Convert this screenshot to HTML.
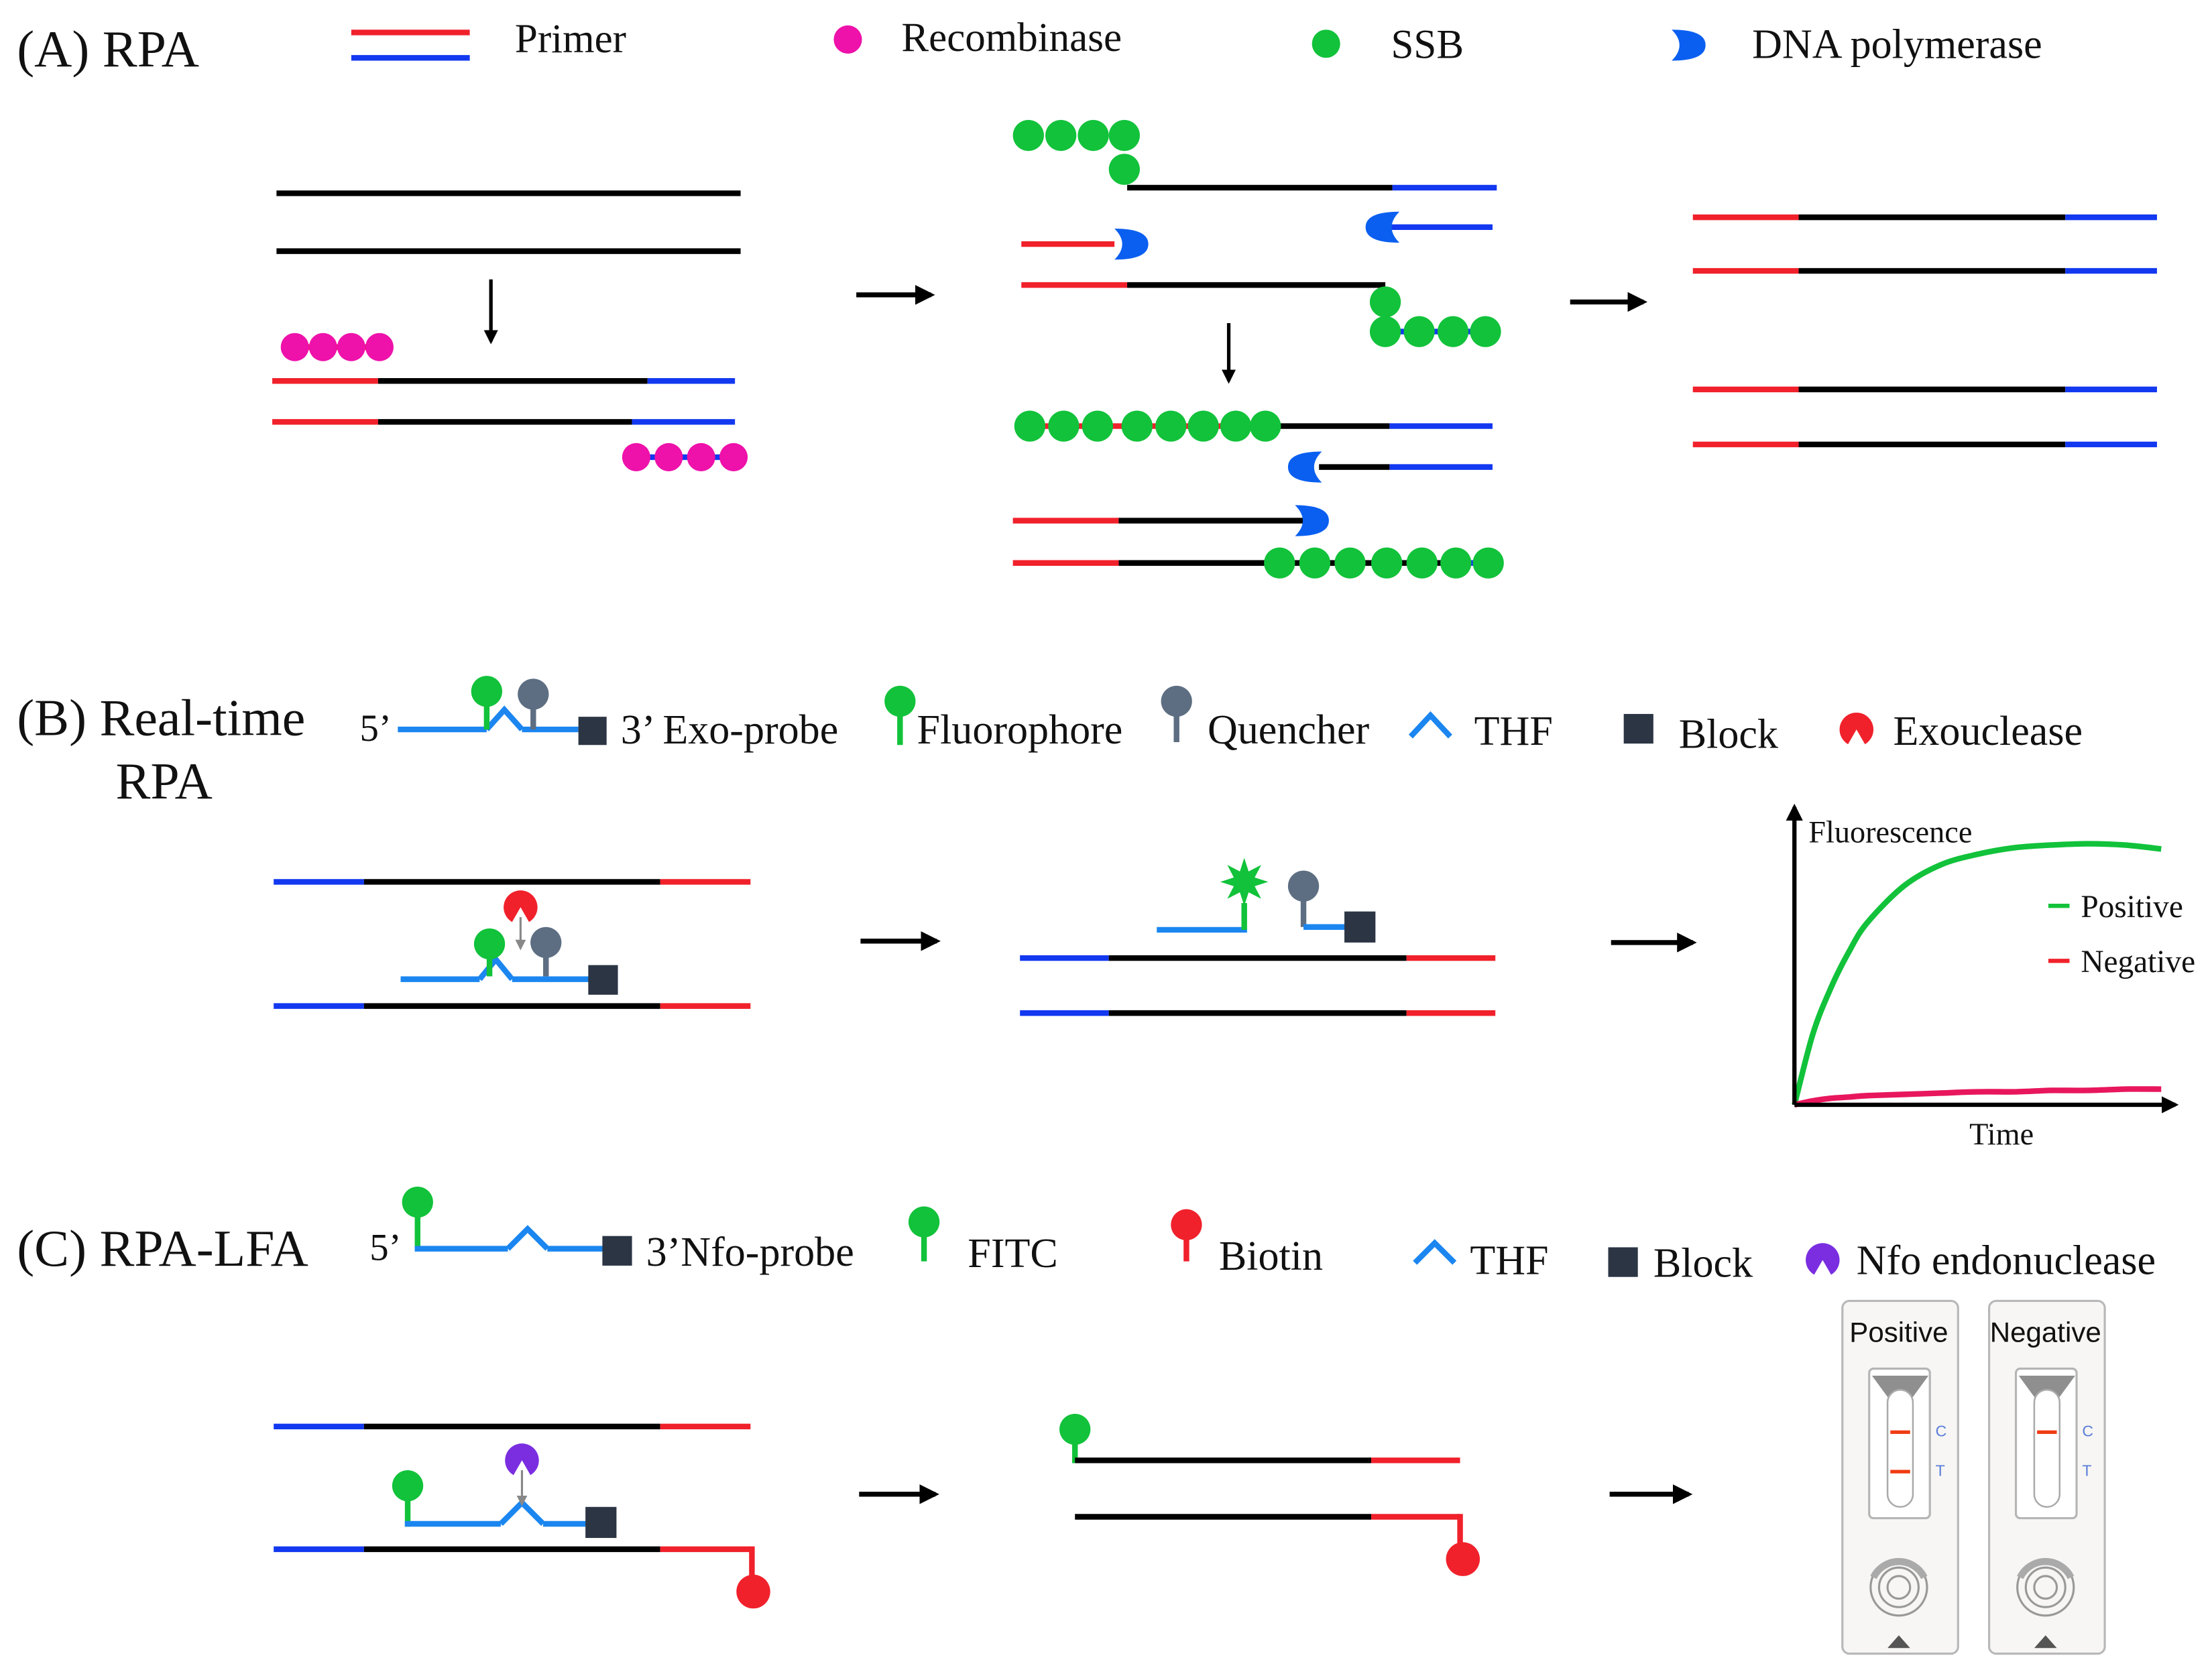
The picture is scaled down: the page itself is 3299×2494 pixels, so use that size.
<!DOCTYPE html>
<html><head><meta charset="utf-8"><style>
html,body{margin:0;padding:0;background:#fff}
svg{display:block}
text{font-family:"Liberation Serif",serif;fill:#111}
</style></head><body>
<svg id="fig" width="3299" height="2494" viewBox="0 0 1568 1185" preserveAspectRatio="none" xmlns="http://www.w3.org/2000/svg">
<defs>
<path id="pol" d="M-10,-11 Q14,-11 14,0 Q14,11 -10,11 Q1,0 -10,-11Z" fill="#0a5ff0"/>
<marker id="ah" viewBox="0 0 10 10" refX="8" refY="5" markerWidth="4" markerHeight="4" orient="auto"><path d="M0,0L10,5L0,10Z" fill="#000"/></marker>
<marker id="ahg" viewBox="0 0 10 10" refX="8" refY="5" markerWidth="5" markerHeight="5" orient="auto"><path d="M0,0L10,5L0,10Z" fill="#888"/></marker>
</defs>
<g id="root" stroke-linecap="butt"></g>
</svg>
<script>
// Fluorescence curve data (panel B)
const timePoints=[0,0.5,1,1.5,2,3,4,5,6,7,8,9,10];
const positiveValues=[0,27,45,59,70,84,92,96,98.5,99.5,100,99.5,98];
const negativeValues=[0,1.5,2.5,3,3.5,4,4.5,5,5,5.5,5.5,6,6];

const NS='http://www.w3.org/2000/svg';
const root=document.getElementById('root');
function el(tag,attrs,name,parent){const e=document.createElementNS(NS,tag);for(const k in attrs)e.setAttribute(k,attrs[k]);


(parent||root).appendChild(e);return e;}
function ln(x1,y1,x2,y2,c,w,name){return el('line',{x1,y1,x2,y2,stroke:c,'stroke-width':w||4},name||'strand');}
function tx(x,y,s,size,name,cls,anchor){const t=el('text',{x,y,'font-size':size||30},name||'label');if(cls)t.style.fontFamily='"Liberation Sans",sans-serif';if(anchor)t.setAttribute('text-anchor',anchor);t.textContent=s;return t;}
function dot(x,y,c,r,name){return el('circle',{cx:x,cy:y,r:r||10,fill:c},name||'dot');}
const R='#f0212b',B='#1238f0',K='#000',G='#11c23a',M='#ee11aa',LB='#1b86f0',GR='#5d6e82',SQ='#2b3544';
function dsr(y,x0,a,b,x1,c0,c1){ln(x0,y,a,y,c0||R);ln(a,y,b,y,K);ln(b,y,x1,y,c1||B);}
function arrow(x1,y1,x2,y2,name,w){el('line',{x1,y1,x2,y2,stroke:'#000','stroke-width':w||3.5,'marker-end':'url(#ah)'},name||'arrow');}
function pol(x,y,left,name){el('use',{href:'#pol',transform:`translate(${x},${y}) scale(${left?-1:1},1)`},name||'dna-polymerase');}
function lolli(x,y0,y1,c,name){ln(x,y0,x,y1,c,4,name+'-stem');dot(x,y1-10,c,11,name);}
function chev(x,y,w,h,c,name){el('polyline',{points:`${x},${y} ${x+w/2},${y-h} ${x+w},${y}`,fill:'none',stroke:c,'stroke-width':4},name||'thf');}
function sq(x,y,s,name){el('rect',{x,y,width:s,height:s,fill:SQ},name||'block');}
function pac(x,y,c,name,r){r=r||12;el('path',{d:`M${x},${y} L${x-r*0.5},${y+r*0.87} A${r},${r} 0 1 1 ${x+r*0.5},${y+r*0.87} Z`,fill:c},name);}

// ===== Panel A =====
tx(12,47,'(A) RPA',37,'panel-a-title');
ln(249,23,333,23,R,4,'legend-primer-red');ln(249,41,333,41,B,4,'legend-primer-blue');
tx(365,37,'Primer',29,'legend-primer');
dot(601,28,M,10,'legend-recombinase-icon');tx(639,36,'Recombinase',29,'legend-recombinase');
dot(940,31,G,10,'legend-ssb-icon');tx(986,41,'SSB',29,'legend-ssb');
pol(1195,32,false,'legend-polymerase-icon');tx(1242,41,'DNA polymerase',29.5,'legend-dna-polymerase');

ln(196,137,525,137,K);ln(196,178,525,178,K);
arrow(348,198,348,242,'arrow-down-a1',2.5);
ln(200,246,268,246,R);[209,232,245,268].forEach((x,i)=>dot(209+i*20,246,M,10,'recombinase'));
dsr(270,193,268,459,521);dsr(299,193,268,448,521);
ln(448,324,521,324,B);[451,474,497,520].forEach(x=>dot(x,324,M,10,'recombinase'));
arrow(607,209,660,209,'arrow-right-a1');

[729,752,775,797].forEach(x=>dot(x,96,G,11,'ssb'));dot(797,120,G,11,'ssb');
ln(799,133,987,133,K);ln(987,133,1061,133,B);
ln(975,161,1058,161,B);pol(982,161,true);
ln(724,173,790,173,R);pol(800,173,false);
ln(724,202,799,202,R);ln(799,202,982,202,K);
dot(982,214,G,11,'ssb');ln(982,235,1060,235,B);[982,1006,1030,1053].forEach(x=>dot(x,235,G,11,'ssb'));
arrow(871,229,871,270,'arrow-down-a2',2.5);
ln(897,302,985,302,K);ln(985,302,1058,302,B);ln(724,302,897,302,R);
[730,754,778,806,830,853,876,897].forEach(x=>dot(x,302,G,11,'ssb'));
ln(935,331,985,331,K);ln(985,331,1058,331,B);pol(927,331,true);
ln(718,369,793,369,R);ln(793,369,925,369,K);pol(928,369,false);
ln(718,399,793,399,R);ln(793,399,1060,399,K);ln(1032,399,1060,399,B);
[907,932,957,983,1008,1032,1055].forEach(x=>dot(x,399,G,11,'ssb'));
arrow(1113,214,1165,214,'arrow-right-a2');
[154,192,276,315].forEach(y=>dsr(y,1200,1275,1464,1529));

// ===== Panel B =====
tx(12,521,'(B) Real-time',37,'panel-b-title');tx(82,566,'RPA',37,'panel-b-title-2');
tx(255,525,'5’',27,'exo-probe-5prime');
ln(282,517,345,517,LB);chev(345,517,25,14,LB);ln(370,517,410,517,LB);sq(410,508,20,'exo-probe-block');
lolli(345,517,500,G,'exo-probe-fluorophore');lolli(378,517,502,GR,'exo-probe-quencher');
tx(440,527,'3’ Exo-probe',29.5,'legend-exo-probe');
lolli(638,528,507,G,'legend-fluorophore-icon');tx(650,527,'Fluorophore',29.5,'legend-fluorophore');
lolli(834,526,507,GR,'legend-quencher-icon');tx(856,527,'Quencher',29.5,'legend-quencher');
chev(1000,522,28,15,LB,'legend-thf-icon');tx(1045,528,'THF',29.5,'legend-thf');
sq(1151,506,21,'legend-block-icon');tx(1190,530,'Block',29.5,'legend-block');
pac(1316,517,R,'legend-exonuclease-icon');tx(1342,528,'Exouclease',29.5,'legend-exonuclease');

dsr(625,194,258,468,532,B,R);dsr(713,194,258,468,532,B,R);
ln(284,694,340,694,LB);chev(340,694,23,14,LB);ln(363,694,418,694,LB);sq(417,684,21);
lolli(347,692,679,G,'fluorophore');lolli(387,692,678,GR,'quencher');
pac(369,643,R,'exonuclease');el('line',{x1:369,y1:650,x2:369,y2:672,stroke:'#888','stroke-width':1.5,'marker-end':'url(#ahg)'},'cleave-arrow');
arrow(610,667,664,667,'arrow-right-b1');
dsr(679,723,786,997,1060,B,R);dsr(718,723,786,997,1060,B,R);
ln(820,659,884,659,LB);ln(882,659,882,640,G);
el('polygon',{points:(()=>{let p=[];for(let i=0;i<16;i++){const a=i*Math.PI/8,r=i%2?8:17;p.push((882+r*Math.cos(a)).toFixed(1)+','+(625+r*Math.sin(a)).toFixed(1));}return p.join(' ');})(),fill:G},'released-fluorophore');
ln(924,638,924,657,GR);dot(924,628,GR,11,'quencher');ln(924,657,955,657,LB);sq(953,646,22);
arrow(1142,668,1200,668,'arrow-right-b2');

// chart
const cx0=1272,cx1=1532,cy0=783,cy100=598;
const xs=t=>cx0+(t-timePoints[0])/(timePoints[timePoints.length-1]-timePoints[0])*(cx1-cx0);
const ys=v=>cy0-v/100*(cy0-cy100);
function curve(vals){const P=vals.map((v,i)=>[xs(timePoints[i]),ys(v)]);let d='M'+P[0][0].toFixed(1)+','+P[0][1].toFixed(1);
for(let i=0;i<P.length-1;i++){const p0=P[Math.max(i-1,0)],p1=P[i],p2=P[i+1],p3=P[Math.min(i+2,P.length-1)];
const c1=[p1[0]+(p2[0]-p0[0])/6,p1[1]+(p2[1]-p0[1])/6],c2=[p2[0]-(p3[0]-p1[0])/6,p2[1]-(p3[1]-p1[1])/6];
d+=` C${c1[0].toFixed(1)},${c1[1].toFixed(1)} ${c2[0].toFixed(1)},${c2[1].toFixed(1)} ${p2[0].toFixed(1)},${p2[1].toFixed(1)}`;}return d;}
el('path',{d:curve(positiveValues),fill:'none',stroke:G,'stroke-width':4,'stroke-linejoin':'round'},'positive-curve');
el('path',{d:curve(negativeValues),fill:'none',stroke:'#e8175d','stroke-width':4,'stroke-linejoin':'round'},'negative-curve');
arrow(1272,783,1272,572,'y-axis',3);arrow(1272,783,1542,783,'x-axis',3);
tx(1282,597,'Fluorescence',22,'y-axis-title');tx(1396,811,'Time',22,'x-axis-title');
ln(1452,642,1467,642,G,3,'legend-positive-swatch');tx(1475,650,'Positive',22.5,'legend-positive');
ln(1452,681,1467,681,R,3,'legend-negative-swatch');tx(1475,689,'Negative',22.5,'legend-negative');

// ===== Panel C =====
tx(12,897,'(C) RPA-LFA',37,'panel-c-title');
tx(262,893,'5’',27,'nfo-probe-5prime');
lolli(296,885,862,G,'nfo-probe-fitc');ln(294,885,360,885,LB);chev(360,885,28,14,LB);ln(388,885,428,885,LB);sq(427,876,21,'nfo-probe-block');
tx(458,897,'3’Nfo-probe',29.5,'legend-nfo-probe');
lolli(655,894,876,G,'legend-fitc-icon');tx(686,898,'FITC',29.5,'legend-fitc');
lolli(841,894,878,R,'legend-biotin-icon');tx(864,900,'Biotin',29.5,'legend-biotin');
chev(1003,895,28,14,LB,'legend-thf-icon-c');tx(1042,903,'THF',29.5,'legend-thf-c');
sq(1140,884,21,'legend-block-icon-c');tx(1172,905,'Block',29.5,'legend-block-c');
pac(1292,893,'#7a2ee0','legend-nfo-icon');tx(1316,903,'Nfo endonuclease',29.5,'legend-nfo-endonuclease');

dsr(1011,194,258,468,532,B,R);dsr(1098,194,258,468,532,B,R);
ln(533,1096,533,1118,R);dot(534,1128,R,12,'biotin');
lolli(289,1082,1063,G,'fitc');ln(287,1080,355,1080,LB);chev(355,1080,30,15,LB);ln(385,1080,416,1080,LB);sq(415,1068,22);
pac(370,1035,'#7a2ee0','nfo-endonuclease');el('line',{x1:370,y1:1042,x2:370,y2:1066,stroke:'#888','stroke-width':1.5,'marker-end':'url(#ahg)'},'cleave-arrow-c');
arrow(609,1059,663,1059,'arrow-right-c1');
lolli(762,1037,1023,G,'fitc-product');ln(762,1035,972,1035,K);ln(972,1035,1035,1035,R);
ln(762,1075,972,1075,K);ln(972,1075,1035,1075,R);ln(1035,1073,1035,1095,R);dot(1037,1105,R,12,'biotin-product');
arrow(1141,1059,1197,1059,'arrow-right-c2');

function strip(x,label,pos){
  el('rect',{x:x,y:922,width:82,height:250,rx:5,fill:'#f7f6f4',stroke:'#b8b8b8','stroke-width':1.5},'lfa-strip-card');
  tx(x+40,951,label,20,'lfa-strip-label','s','middle');
  el('rect',{x:x+19,y:970,width:43,height:106,rx:3,fill:'#fff',stroke:'#b5b5b5','stroke-width':1.5},'lfa-window');
  el('polygon',{points:`${x+21},${975} ${x+61},${975} ${x+50},${990} ${x+32},${990}`,fill:'#8f8f8f'},'lfa-sample-funnel');
  el('rect',{x:x+32,y:985,width:18,height:83,rx:9,fill:'#fff',stroke:'#aaa','stroke-width':1.2},'lfa-tube');
  ln(x+34,1015,x+48,1015,'#f03a12',2.5,'control-line');
  if(pos)ln(x+34,1043,x+48,1043,'#f03a12',2.5,'test-line');
  const c=tx(x+66,1018,'C',11,'control-label','s');c.style.fill='#5a7ed8';
  const t=tx(x+66,1046,'T',11,'test-label','s');t.style.fill='#5a7ed8';
  [20,14,8].forEach(r=>el('circle',{cx:x+40,cy:1125,r,fill:'none',stroke:'#999','stroke-width':1.5},'sample-well'));
  el('path',{d:`M${x+22},1118 A20,20 0 0 1 ${x+58},1118`,fill:'none',stroke:'#aaa','stroke-width':5},'sample-well-arc');
  el('polygon',{points:`${x+32},1168 ${x+48},1168 ${x+40},1159`,fill:'#555'},'flow-direction-mark');
}
strip(1306,'Positive',true);strip(1410,'Negative',false);
</script>
</body></html>
